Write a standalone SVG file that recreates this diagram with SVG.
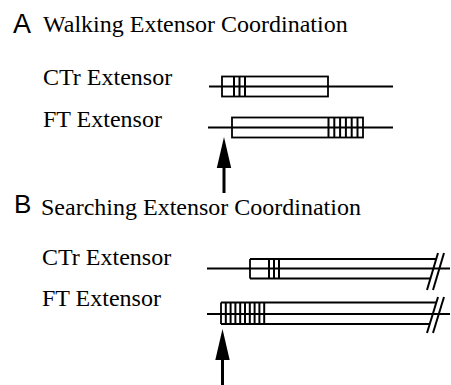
<svg xmlns="http://www.w3.org/2000/svg" width="451" height="385" viewBox="0 0 451 385">
  <style>
    .panel { font-family: "Liberation Sans", Arial, sans-serif; fill: #000; }
    .trace { stroke: #000; stroke-width: 1.8; fill: none; }
    .box { stroke: #000; stroke-width: 1.8; fill: #fff; }
    .bar { stroke: #000; stroke-width: 2; }
    .cut { stroke: #000; stroke-width: 2; fill: none; }
  </style>
  <defs>
    <!-- upward stimulus arrow, tip at origin -->
    <g id="arrowUp">
      <polygon points="0,0 -7.2,31 7.2,31" fill="#000"/>
      <line x1="0" y1="30" x2="0" y2="56" stroke="#000" stroke-width="3"/>
    </g>
  </defs>

  <rect width="451" height="385" fill="#fff"/>

  <g font-family="Liberation Serif, Times New Roman, DejaVu Serif, serif" font-size="24" fill="#000">
    <!-- Panel A -->
    <g id="panelA-heading">
      <text class="panel" x="13" y="33" font-size="27">A</text>
      <text x="43" y="32">Walking Extensor Coordination</text>
    </g>
    <g id="A-ctr-label"><text x="43" y="85">CTr Extensor</text></g>
    <g id="A-ft-label"><text x="43" y="127">FT Extensor</text></g>

    <!-- Panel B -->
    <g id="panelB-heading">
      <text class="panel" x="14" y="213" font-size="26">B</text>
      <text x="41" y="215">Searching Extensor Coordination</text>
    </g>
    <g id="B-ctr-label"><text x="42" y="265">CTr Extensor</text></g>
    <g id="B-ft-label"><text x="42" y="306">FT Extensor</text></g>
  </g>

  <g id="A-ctr-trace">
    <line class="trace" x1="209" y1="86.5" x2="393" y2="86.5"/>
    <rect class="box" x="222" y="76.5" width="106" height="20"/>
    <line class="trace" x1="222" y1="86.5" x2="328" y2="86.5"/>
    <line class="bar" x1="234" y1="76.5" x2="234" y2="96.5"/>
    <line class="bar" x1="239.5" y1="76.5" x2="239.5" y2="96.5"/>
    <line class="bar" x1="245" y1="76.5" x2="245" y2="96.5"/>
  </g>

  <g id="A-ft-trace">
    <line class="trace" x1="208" y1="127.5" x2="393" y2="127.5"/>
    <rect class="box" x="232" y="117.5" width="131" height="20"/>
    <line class="trace" x1="232" y1="127.5" x2="363" y2="127.5"/>
    <line class="bar" x1="328.5" y1="117.5" x2="328.5" y2="137.5"/>
    <line class="bar" x1="334.3" y1="117.5" x2="334.3" y2="137.5"/>
    <line class="bar" x1="340.1" y1="117.5" x2="340.1" y2="137.5"/>
    <line class="bar" x1="345.9" y1="117.5" x2="345.9" y2="137.5"/>
    <line class="bar" x1="351.7" y1="117.5" x2="351.7" y2="137.5"/>
    <line class="bar" x1="357.5" y1="117.5" x2="357.5" y2="137.5"/>
  </g>

  <g id="A-arrow"><use href="#arrowUp" x="224" y="137"/></g>

  <g id="B-ctr-trace">
    <line class="trace" x1="207" y1="268.5" x2="450" y2="268.5"/>
    <line class="trace" x1="250" y1="259" x2="436" y2="259"/>
    <line class="trace" x1="250" y1="278.5" x2="430.5" y2="278.5"/>
    <line class="trace" x1="250" y1="259" x2="250" y2="278.5"/>
    <line class="bar" x1="269" y1="259" x2="269" y2="278.5"/>
    <line class="bar" x1="274" y1="259" x2="274" y2="278.5"/>
    <line class="bar" x1="279" y1="259" x2="279" y2="278.5"/>
    <line class="cut" x1="438" y1="253" x2="427" y2="290"/>
    <line class="cut" x1="444" y1="253" x2="433" y2="290"/>
  </g>

  <g id="B-ft-trace">
    <line class="trace" x1="207" y1="314" x2="450" y2="314"/>
    <line class="trace" x1="221" y1="302.5" x2="436" y2="302.5"/>
    <line class="trace" x1="221" y1="324" x2="430" y2="324"/>
    <line class="trace" x1="221" y1="302.5" x2="221" y2="324"/>
    <line class="bar" x1="225.8" y1="302.5" x2="225.8" y2="324"/>
    <line class="bar" x1="230.6" y1="302.5" x2="230.6" y2="324"/>
    <line class="bar" x1="235.4" y1="302.5" x2="235.4" y2="324"/>
    <line class="bar" x1="240.2" y1="302.5" x2="240.2" y2="324"/>
    <line class="bar" x1="245" y1="302.5" x2="245" y2="324"/>
    <line class="bar" x1="249.8" y1="302.5" x2="249.8" y2="324"/>
    <line class="bar" x1="254.6" y1="302.5" x2="254.6" y2="324"/>
    <line class="bar" x1="259.4" y1="302.5" x2="259.4" y2="324"/>
    <line class="bar" x1="264.2" y1="302.5" x2="264.2" y2="324"/>
    <line class="cut" x1="438" y1="297" x2="427" y2="333"/>
    <line class="cut" x1="444" y1="297" x2="433" y2="333"/>
  </g>

  <g id="B-arrow"><use href="#arrowUp" x="222.5" y="329"/></g>
</svg>
